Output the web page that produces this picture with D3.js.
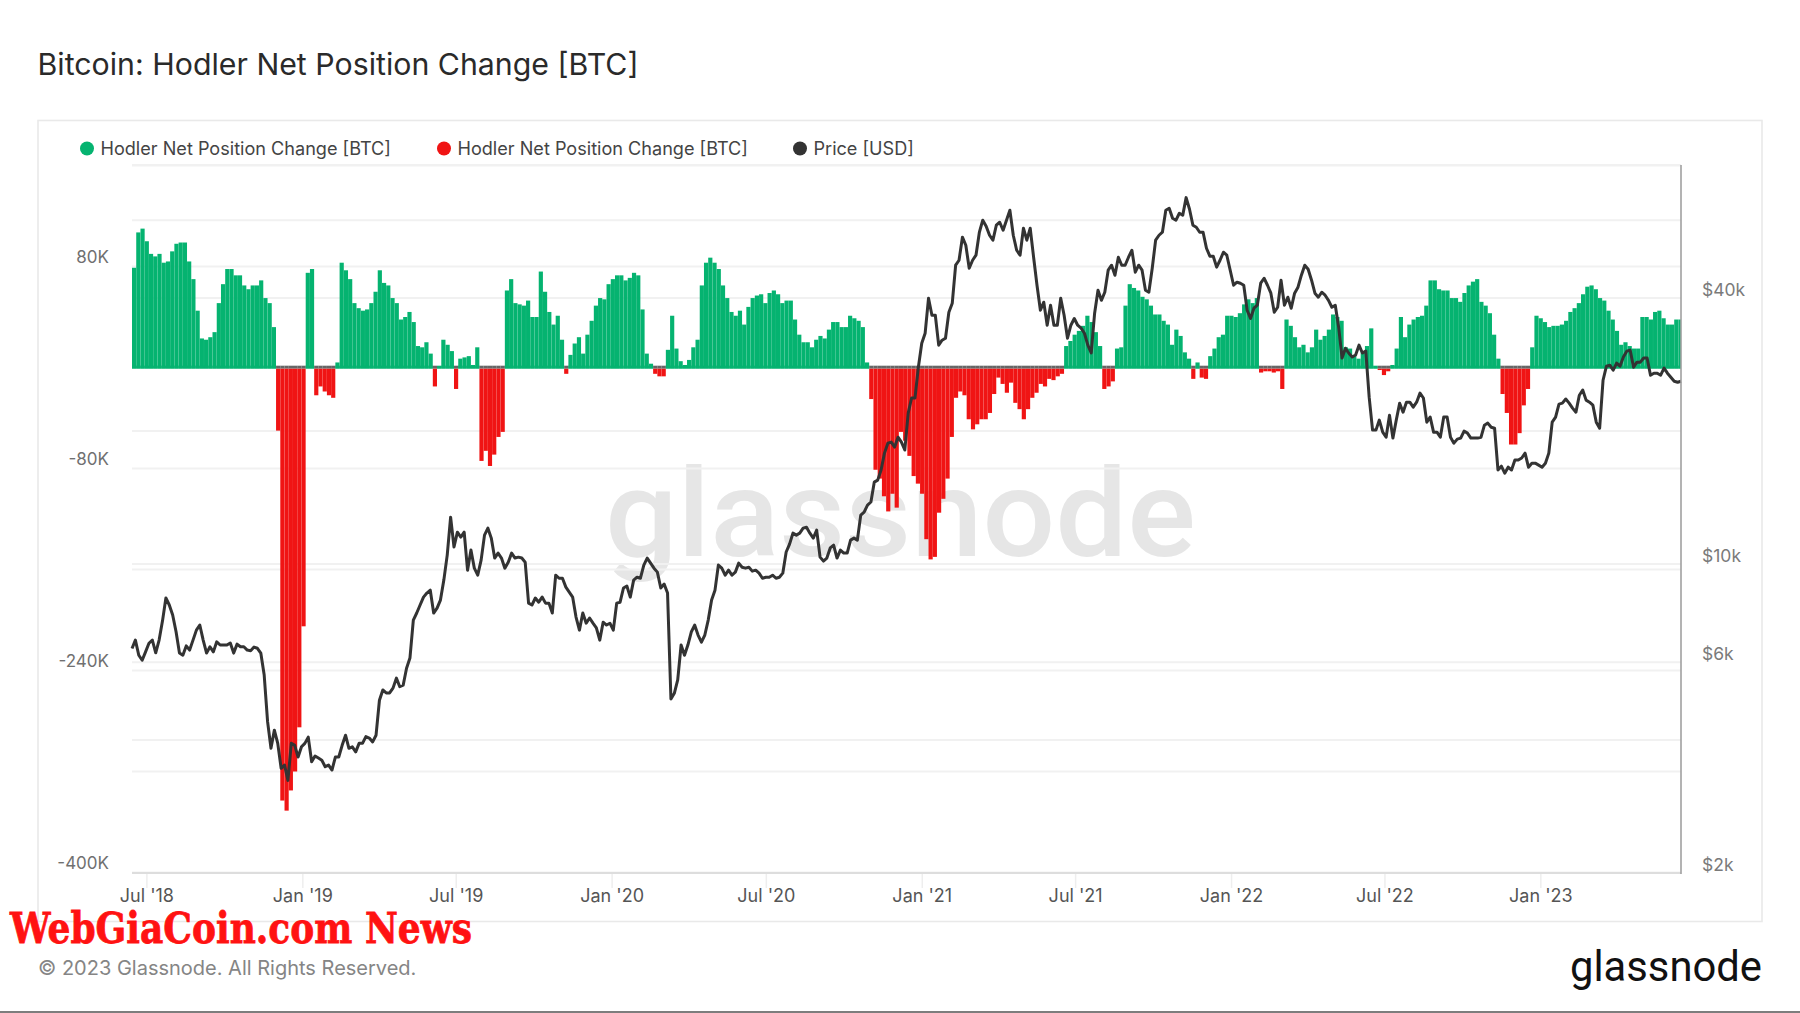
<!DOCTYPE html>
<html><head><meta charset="utf-8">
<script src="https://cdn.jsdelivr.net/npm/d3@7/dist/d3.min.js"></script>
<style>
html,body{margin:0;padding:0;background:#fff;overflow:hidden}
svg{display:block}
text{font-family:Inter,"Noto Sans",sans-serif}
</style></head><body>
<svg id="c" width="1800" height="1013"></svg>
<script>
const chartTitle = "Bitcoin: Hodler Net Position Change [BTC]";
const legendLabels = ["Hodler Net Position Change [BTC]","Hodler Net Position Change [BTC]","Price [USD]"];
const startDate = "2018-06-14";
const endDate = "2023-06-16";
const barStepDays = 5;
const priceStepDays = 4;
// Hodler net position change, thousands of BTC, one reading per 5 days
const netChangeK = [
79,107,110,100,90,88,90,83,84,92,
98,99,99,84,70,45,23,22,24,28,
51,66,78,78,73,73,65,62,65,65,
69,55,51,32,-50,-343,-351,-335,-320,-285,
-205,75,78,-22,-15,-19,-22,-24,4,83,
77,70,51,47,45,46,51,60,77,67,
65,55,51,38,40,44,36,17,16,20,
11,-15,1,22,18,13,-17,7,8,9,
2,16,-74,-66,-78,-69,-55,-51,61,70,
51,50,49,53,40,40,76,60,44,34,
41,22,-5,10,19,24,11,26,37,49,
55,54,66,70,73,73,69,71,75,73,
46,11,3,-5,-7,-7,14,41,15,5,
2,6,16,22,65,83,87,83,78,65,
55,44,41,45,34,48,55,57,58,51,
59,61,58,51,53,53,38,26,20,20,
16,22,25,23,30,36,36,32,32,41,
39,37,32,4,-25,-81,-88,-102,-114,-100,
-111,-51,-58,-70,-86,-92,-100,-136,-152,-150,
-115,-104,-88,-55,-24,-19,-22,-41,-49,-45,
-41,-41,-36,-21,-8,-13,-20,-12,-28,-33,
-41,-33,-24,-20,-13,-15,-9,-10,-7,-5,
17,21,26,29,33,41,36,28,17,-17,
-15,-11,15,16,49,66,63,61,56,54,
49,42,42,37,34,18,30,25,12,7,
-9,4,-8,-9,9,15,24,26,41,41,
40,43,50,54,51,55,-4,-3,-3,-4,
-3,-17,38,33,24,16,18,12,16,30,
22,25,30,42,40,37,16,15,9,7,
12,17,31,1,-2,-6,-3,2,15,40,
24,34,38,40,41,49,69,69,62,61,
61,55,55,52,59,65,68,70,52,49,
43,26,7,-21,-36,-61,-61,-52,-30,-17,
16,41,39,36,32,33,33,34,37,44,
47,51,58,64,65,62,55,53,45,38,
29,18,20,17,15,15,40,40,38,44,
45,39,34,34,38,38
];
// BTC price in USD, one reading per 4 days
const priceUsd = [
6440,6730,6220,6060,6330,6620,6730,6300,6730,7440,
8380,8080,7670,7030,6290,6220,6530,6390,6730,7090,
7280,6730,6290,6500,6330,6670,6560,6560,6560,6630,
6290,6590,6500,6500,6390,6370,6490,6450,6290,5610,
4400,3830,4210,3930,3450,3510,3240,3930,3890,3660,
3860,3930,4060,3570,3680,3640,3600,3480,3510,3420,
3660,3660,3890,4100,3830,3860,3760,3930,3930,4070,
4040,3960,4100,4920,5190,5110,5110,5240,5520,5280,
5320,5810,6130,7470,7750,8080,8420,8600,8730,7750,
7950,8290,9200,10480,12770,10930,11810,11510,11810,9690,
10760,9790,9440,10210,11630,12060,11450,10320,10590,10320,
9790,10100,10590,10320,10370,10320,10100,8160,8080,8380,
8200,8420,8160,8160,7750,9440,9290,9290,8870,8640,
8420,7590,7090,7750,7350,7550,7350,7170,6730,7390,
7280,7350,7090,8160,8200,8830,8920,8420,9200,9340,
9290,9950,10320,10050,9790,9590,8830,9010,8600,4950,
5100,5470,6560,6220,6560,7020,7280,6910,6660,6910,
7470,8290,8730,9950,9790,9440,9690,9440,9590,10050,
9840,9790,9840,9640,9690,9540,9290,9340,9340,9440,
9290,9340,9540,10650,11100,11750,11630,11750,12060,12120,
11750,11450,11940,10370,10160,10320,10880,11040,10320,10760,
10590,10590,11330,11450,11330,12910,13110,13600,13820,15330,
15490,16330,17830,18780,18880,18400,19370,18880,18120,21960,
23760,23760,27900,31610,33300,39960,36570,36570,31290,32110,
32450,37150,38930,47460,48710,54930,52660,46720,48710,50000,
56360,60000,58140,55480,54070,58450,59370,56950,60000,63190,
55480,51310,50000,57550,54070,57550,49480,42760,37530,39140,
34720,38530,34720,34720,39960,36570,32450,34720,35960,34720,
34180,33300,31290,30040,36960,41660,39530,41230,46240,47460,
45050,49480,47460,47460,49480,51310,45760,47460,46240,41660,
41230,46720,54070,55480,56360,63190,63850,60620,60000,62220,
61570,67500,63520,58450,57850,56360,56360,51850,49740,49740,
46980,48710,50780,50000,46240,42760,43440,43210,42760,37530,
35960,37930,38530,43210,44340,42760,41020,37150,38130,43890,
38530,40170,37930,41020,42320,45050,47460,46480,43890,41020,
40170,41230,40590,39530,38130,38530,34360,29260,30790,30000,
29420,29730,31290,30040,30360,23860,20100,20100,21180,19890,
19370,21730,19280,21180,23130,22070,23250,23250,22650,23250,
24370,23760,20950,21510,19890,19890,19370,21510,21510,19370,
18780,19180,19280,20000,19790,19280,19280,19280,19370,20620,
20850,20400,20300,16330,16660,16060,16570,16330,17200,17200,
17380,17830,16570,16920,16920,16750,16570,16920,17830,20950,
21510,23010,23130,23640,23130,22540,22070,24110,24770,23500,
23250,22890,20950,20300,26060,28040,28190,27470,28490,28040,
29420,30330,30490,27900,28640,28640,29260,29260,26760,27040,
27040,26760,27760,27040,26480,25930,25800,25930
];
const xTickDates = ["2018-07-01","2019-01-01","2019-07-01","2020-01-01","2020-07-01","2021-01-01","2021-07-01","2022-01-01","2022-07-01","2023-01-01"];
const xTickLabels = ["Jul '18","Jan '19","Jul '19","Jan '20","Jul '20","Jan '21","Jul '21","Jan '22","Jul '22","Jan '23"];
const leftGridK = [160,80,0,-80,-160,-240,-320,-400];
const leftLabelK = [80,-80,-240,-400];
const rightGridUsd = [80000,60000,40000,20000,10000,6000,4000,2000];
const rightLabelUsd = [40000,10000,6000,2000];

const GREEN="#05b370",RED="#f01414",DARK="#333333",ZERO="#666666",GRID="#f1f1f1";
const DAY=864e5, t0=new Date(startDate+"T00:00Z");
const L=132,R=1681,T=165,B=873;
const x=d3.scaleUtc().domain([t0,new Date(endDate+"T00:00Z")]).range([L,R]);
const yL=d3.scaleLinear().domain([-400,160]).range([872.5,165.5]);
const yR=d3.scaleLog().domain([2000,80000]).range([B,T]);
const svg=d3.select("#c");

// frame
svg.append("rect").attr("x",38).attr("y",120.5).attr("width",1724).attr("height",801).attr("fill","#fff").attr("stroke","#e9e9e9").attr("stroke-width",1.6);
svg.append("rect").attr("x",0).attr("y",1011).attr("width",1800).attr("height",2).attr("fill","#7d7d7d");
// title
svg.append("text").attr("x",37.5).attr("y",75).attr("font-size",30).attr("font-weight",400).attr("fill","#2a2a2a").attr("textLength",601).attr("lengthAdjust","spacingAndGlyphs").text(chartTitle);
// watermark
svg.append("text").attr("x",605).attr("y",556).attr("font-size",122).attr("font-weight",500).attr("fill","#e6e6e6").attr("textLength",591).attr("lengthAdjust","spacingAndGlyphs").style("font-family","Roboto").text("glassnode");

// grid
const grid=svg.append("g").attr("stroke",GRID).attr("stroke-width",2);
leftGridK.forEach(k=>grid.append("line").attr("x1",L).attr("x2",R).attr("y1",yL(k)).attr("y2",yL(k)));
rightGridUsd.forEach(p=>grid.append("line").attr("x1",L).attr("x2",R).attr("y1",yR(p)).attr("y2",yR(p)));

// axes
const xAxis=d3.axisBottom(x).tickValues(xTickDates.map(d=>new Date(d+"T00:00Z"))).tickFormat((d,i)=>xTickLabels[i]).tickSize(15).tickPadding(1);
const gx=svg.append("g").attr("transform",`translate(0,${B})`).call(xAxis);
gx.select(".domain").remove();
gx.selectAll("line").attr("stroke","#eeeeee").attr("stroke-width",1.5);
gx.selectAll("text").attr("font-size",18).attr("fill","#555").attr("dy","0.72em");
svg.append("line").attr("x1",L).attr("x2",R).attr("y1",B).attr("y2",B).attr("stroke","#dddddd").attr("stroke-width",2);

const fmtK=k=>k+"K";
const lAxis=d3.axisLeft(yL).tickValues(leftLabelK).tickFormat(fmtK).tickSize(0).tickPadding(0);
const gl=svg.append("g").attr("transform","translate(109,-9)").call(lAxis);
gl.select(".domain").remove();
gl.selectAll("text").attr("font-size",17).attr("fill","#707070");
const rAxis=d3.axisRight(yR).tickValues(rightLabelUsd).tickFormat(v=>"$"+(v/1000)+"k").tickSize(0).tickPadding(0);
const gr=svg.append("g").attr("transform","translate(1702,-8.5)").call(rAxis);
gr.select(".domain").remove();
gr.selectAll("text").attr("font-size",17.5).attr("fill","#7a7a7a");

// bars
const clip=svg.append("defs").append("clipPath").attr("id","pl");
clip.append("rect").attr("x",L).attr("y",140).attr("width",R-L).attr("height",B-140);
const plot=svg.append("g").attr("clip-path","url(#pl)");
const bars=netChangeK.map((v,i)=>({v,d:new Date(+t0+i*barStepDays*DAY)}));
const bw=x(new Date(+t0+barStepDays*DAY))-x(t0);
const y0=yL(0);
plot.selectAll("rect.b").data(bars).join("rect").attr("class","b")
  .attr("x",d=>x(d.d)).attr("width",bw-0.06)
  .attr("y",d=>d.v>0?yL(d.v):y0+1)
  .attr("height",d=>d.v>0?y0+1-yL(d.v):yL(d.v)-y0-1)
  .attr("fill",d=>d.v>0?GREEN:RED);
plot.selectAll("rect.z").data(bars).join("rect").attr("class","z")
  .attr("x",d=>x(d.d)).attr("width",bw)
  .attr("y",y0-1.8).attr("height",2.8)
  .attr("fill",d=>d.v>0?GREEN:ZERO);

// price
const line=d3.line().x((p,i)=>x(new Date(+t0+i*priceStepDays*DAY))).y(p=>yR(p)).curve(d3.curveLinear);
svg.append("path").datum(priceUsd).attr("d",line).attr("fill","none").attr("stroke",DARK).attr("stroke-width",3).attr("stroke-linejoin","round");
// right axis line
svg.append("line").attr("x1",R).attr("x2",R).attr("y1",165).attr("y2",B+1).attr("stroke","#a0a0a0").attr("stroke-width",1.6);

// legend
const legendX=[[87,100.5],[444,457.5],[800,813.5]], legendC=[GREEN,RED,DARK];
legendLabels.forEach((t,i)=>{
  svg.append("circle").attr("cx",legendX[i][0]).attr("cy",148.5).attr("r",7).attr("fill",legendC[i]);
  svg.append("text").attr("x",legendX[i][1]).attr("y",154.5).attr("font-size",18.1).attr("fill","#444").text(t);
});

// footer
svg.append("text").attr("x",10).attr("y",943).attr("font-size",43).attr("font-weight",700).attr("fill","#ff1212").attr("stroke","#ff1212").attr("stroke-width",0.8).attr("textLength",462).attr("lengthAdjust","spacingAndGlyphs").style("font-family","'DejaVu Serif'").text("WebGiaCoin.com News");
svg.append("text").attr("x",38).attr("y",975).attr("font-size",20).attr("fill","#858585").text("© 2023 Glassnode. All Rights Reserved.");
svg.append("text").attr("x",1570).attr("y",981).attr("font-size",42).attr("fill","#111").attr("textLength",192).attr("lengthAdjust","spacingAndGlyphs").style("font-family","Roboto").text("glassnode");
</script>
</body></html>
